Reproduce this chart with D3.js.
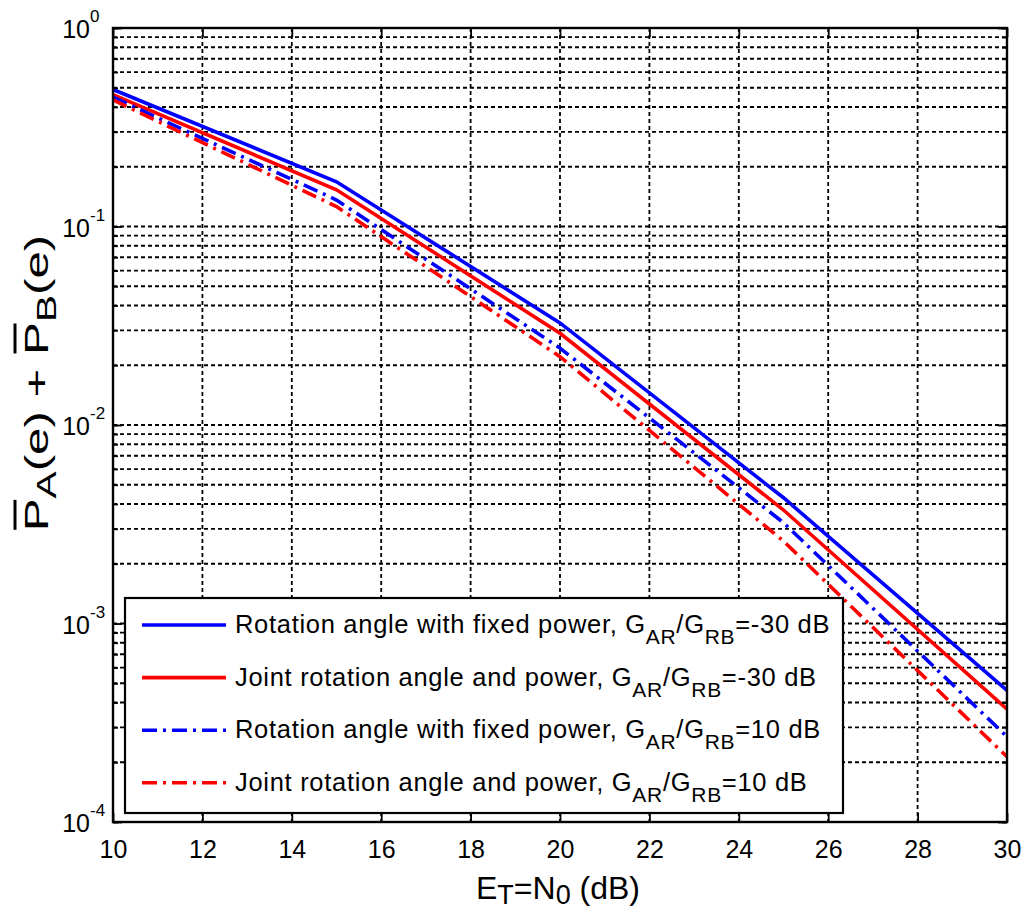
<!DOCTYPE html>
<html>
<head>
<meta charset="utf-8">
<script src="https://cdn.jsdelivr.net/npm/d3@7"></script>
<style>
  body { margin: 0; background: #fff; }
  text { font-family: "Liberation Sans", Arial, Helvetica, sans-serif; fill: #000; }
</style>
</head>
<body>
<div id="chart"></div>
<script>
// E_T/N_0 in dB
var snr = [10, 15, 20, 25, 30];

// error probability sums
var rotFixedM30   = [0.49, 0.168, 0.0327, 0.0043, 0.00046];
var jointM30      = [0.462, 0.153, 0.029, 0.00373, 0.00037];
var rotFixedP10   = [0.448, 0.136, 0.0244, 0.00322, 0.000269];
var jointP10      = [0.434, 0.126, 0.0221, 0.0026, 0.000213];

var legendText  = ["Rotation angle with fixed power, ",
                   "Joint rotation angle and power, ",
                   "Rotation angle with fixed power, ",
                   "Joint rotation angle and power, "];
var legendRatio = ["=-30 dB", "=-30 dB", "=10 dB", "=10 dB"];

var xTicks   = [10, 12, 14, 16, 18, 20, 22, 24, 26, 28, 30];
var yDecades = [0, -1, -2, -3, -4];

var width = 1023, height = 911;
var pLeft = 113, pRight = 1007, pTop = 28, pBottom = 822;

var svg = d3.select("#chart").append("svg")
            .attr("width", width)
            .attr("height", height);

var x = d3.scaleLinear().domain([10, 30]).range([pLeft, pRight]);
var y = d3.scaleLog().domain([1e-4, 1]).range([pBottom, pTop]);

var series = [
  {values: rotFixedM30, color: "#0000ff", dash: null},
  {values: jointM30,    color: "#ff0000", dash: null},
  {values: rotFixedP10, color: "#0000ff", dash: "15,6,3,6"},
  {values: jointP10,    color: "#ff0000", dash: "15,6,3,6"}
];

// grid
var grid = svg.append("g").attr("stroke", "#000").attr("stroke-width", 1.8)
              .attr("stroke-dasharray", "4,3");
grid.selectAll("line.v").data(xTicks.slice(1, -1)).enter().append("line")
    .attr("x1", d => x(d)).attr("x2", d => x(d))
    .attr("y1", pTop).attr("y2", pBottom);
grid.selectAll("line.h").data(y.ticks()).enter().append("line")
    .attr("x1", pLeft).attr("x2", pRight)
    .attr("y1", d => y(d)).attr("y2", d => y(d));

// curves
var line = d3.line().x((d, i) => x(snr[i])).y(d => y(d));
svg.selectAll("path.curve").data(series).enter().append("path")
   .attr("class", "curve")
   .attr("d", d => line(d.values))
   .attr("fill", "none")
   .attr("stroke", d => d.color)
   .attr("stroke-width", 3.6)
   .attr("stroke-dasharray", d => d.dash);

// axes (ticks pointing in)
function styleAxis(g) {
  g.select(".domain").remove();
  g.selectAll(".tick line").attr("stroke", "#000").attr("stroke-width", 1.8);
}
svg.append("g").attr("transform", "translate(0," + pBottom + ")")
   .call(d3.axisBottom(x).tickValues(xTicks).tickSizeInner(-9).tickSizeOuter(0))
   .call(styleAxis)
   .selectAll("text").attr("font-size", 25).attr("dy", 0).attr("y", 36)
   .style("font-family", "'Liberation Sans', Arial, sans-serif");
svg.append("g").attr("transform", "translate(0," + pTop + ")")
   .call(d3.axisTop(x).tickValues(xTicks).tickSizeInner(-9).tickSizeOuter(0).tickFormat(""))
   .call(styleAxis);
[[d3.axisLeft, pLeft], [d3.axisRight, pRight]].forEach(function(a) {
  svg.append("g").attr("transform", "translate(" + a[1] + ",0)")
     .call(a[0](y).tickValues(y.ticks()).tickSizeInner(-5).tickSizeOuter(0).tickFormat(""))
     .call(styleAxis);
  svg.append("g").attr("transform", "translate(" + a[1] + ",0)")
     .call(a[0](y).tickValues(yDecades.map(k => Math.pow(10, k))).tickSizeInner(-9).tickSizeOuter(0).tickFormat(""))
     .call(styleAxis);
});

// y tick labels 10^k
var ylab = svg.selectAll("g.ylab").data(yDecades).enter().append("g")
              .attr("transform", d => "translate(90," + (y(Math.pow(10, d)) + 10) + ")");
ylab.append("text").attr("text-anchor", "end").attr("font-size", 25).text("10");
ylab.append("text").attr("x", 0).attr("y", -16).attr("font-size", 17).text(d => d);

// legend
var lg = svg.append("g");
lg.append("rect").attr("x", 125).attr("y", 598).attr("width", 718).attr("height", 215)
  .attr("fill", "#fff").attr("stroke", "#000").attr("stroke-width", 2.2);
var rows = lg.selectAll("g.row").data(series).enter().append("g")
             .attr("transform", (d, i) => "translate(0," + (625 + i * 52.6) + ")");
rows.append("line").attr("x1", 142).attr("x2", 226)
    .attr("stroke", d => d.color).attr("stroke-width", 3.6)
    .attr("stroke-dasharray", d => d.dash);
var lt = rows.append("text").attr("x", 235).attr("y", 8).attr("font-size", 25.5)
             .attr("letter-spacing", 0.7);
lt.append("tspan").text((d, i) => legendText[i] + "G");
lt.append("tspan").attr("dy", 11).attr("font-size", 21).text("AR");
lt.append("tspan").attr("dy", -11).text("/G");
lt.append("tspan").attr("dy", 11).attr("font-size", 21).text("RB");
lt.append("tspan").attr("dy", -11).text((d, i) => legendRatio[i]);

// axis box
svg.append("rect").attr("x", pLeft).attr("y", pTop)
   .attr("width", pRight - pLeft).attr("height", pBottom - pTop)
   .attr("fill", "none").attr("stroke", "#000").attr("stroke-width", 2.4);

// x label
var xl = svg.append("text").attr("x", 558).attr("y", 899).attr("text-anchor", "middle")
            .attr("font-size", 32);
xl.append("tspan").text("E");
xl.append("tspan").attr("dy", 5).attr("font-size", 27).text("T");
xl.append("tspan").attr("dy", -5).text("=N");
xl.append("tspan").attr("dy", 5).attr("font-size", 27).text("0");
xl.append("tspan").attr("dy", -5).text(" (dB)");

// y label with overbars
var yg = svg.append("g").attr("transform", "translate(48,383) rotate(-90) scale(1.45,1)");
var yt = yg.append("text").attr("text-anchor", "middle").attr("font-size", 34);
yt.append("tspan").text("P");
yt.append("tspan").attr("dy", 8).attr("font-size", 28).text("A");
yt.append("tspan").attr("dy", -8).text("(e) + P");
yt.append("tspan").attr("dy", 8).attr("font-size", 28).text("B");
yt.append("tspan").attr("dy", -8).text("(e)");
[0, 8].forEach(function(ci) {
  var ex = yt.node().getExtentOfChar(ci);
  yg.append("line").attr("x1", ex.x + 1).attr("x2", ex.x + ex.width - 1)
    .attr("y1", -33).attr("y2", -33)
    .attr("stroke", "#000").attr("stroke-width", 3);
});
</script>
</body>
</html>
